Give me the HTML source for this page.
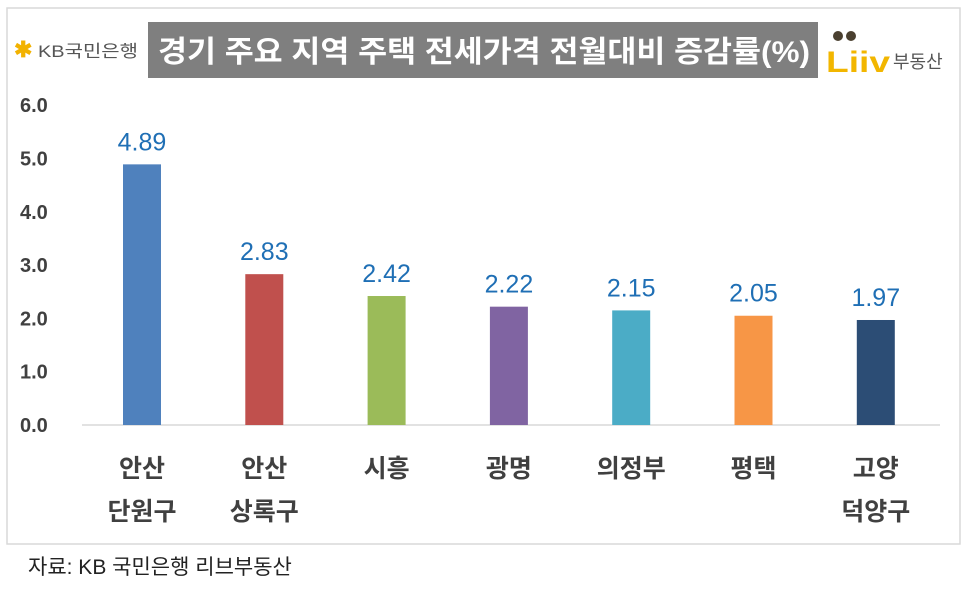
<!DOCTYPE html>
<html><head><meta charset="utf-8"><style>
body{margin:0;background:#fff;width:966px;height:593px;overflow:hidden;font-family:"Liberation Sans","Noto Sans CJK KR",sans-serif}
</style></head><body>
<svg width="966" height="593" xmlns="http://www.w3.org/2000/svg" font-family="Liberation Sans, Noto Sans CJK KR, sans-serif">
<rect x="7" y="8" width="953" height="536" fill="#fff" stroke="#d9d9d9" stroke-width="1.5"/>
<rect x="148" y="22" width="670" height="56" fill="#7f7f7f"/>
<text x="158" y="62" fill="#fff" font-size="30" font-weight="bold" textLength="652" lengthAdjust="spacingAndGlyphs">경기 주요 지역 주택 전세가격 전월대비 증감률(%)</text>
<g>
<text x="14" y="57" fill="#f2b200" font-size="22" font-weight="bold">✱</text>
<text x="38" y="57" fill="#555" font-size="17" textLength="100" lengthAdjust="spacingAndGlyphs">KB국민은행</text>
</g>
<g>
<circle cx="838" cy="36" r="5" fill="#4a4030"/><circle cx="851" cy="36" r="5" fill="#4a4030"/>
<text x="826" y="72" fill="#f2b600" font-size="30" font-weight="bold" textLength="64" lengthAdjust="spacingAndGlyphs">Liiv</text>
<text x="893" y="68" fill="#555" font-size="18">부동산</text>
</g>
<g id="yaxis"></g>
<line x1="82" y1="425" x2="940" y2="425" stroke="#d9d9d9" stroke-width="1.5"/>
<g id="bars"></g>
<text x="28" y="574" fill="#222" font-size="21">자료: KB 국민은행  리브부동산</text>
</svg>
<script>
const categories=[["안산","단원구"],["안산","상록구"],["시흥"],["광명"],["의정부"],["평택"],["고양","덕양구"]];
const values=[4.89,2.83,2.42,2.22,2.15,2.05,1.97];
const valueLabels=["4.89","2.83","2.42","2.22","2.15","2.05","1.97"];
const colors=["#4f81bd","#c0504d","#9bbb59","#8064a2","#4bacc6","#f79646","#2c4d75"];
const yTicks=[0,1,2,3,4,5,6];
const NS="http://www.w3.org/2000/svg";
const y=v=>425-v*53.3;
const x=i=>142+i*122.3;
const ya=document.getElementById('yaxis');
yTicks.forEach(t=>{const e=document.createElementNS(NS,'text');


e.setAttribute('x',20);e.setAttribute('y',y(t)+7);e.setAttribute('font-size','20');e.setAttribute('font-weight','bold');e.setAttribute('fill','#404040');e.textContent=t.toFixed(1);ya.appendChild(e);});
const g=document.getElementById('bars');
values.forEach((v,i)=>{
const r=document.createElementNS(NS,'rect');


r.setAttribute('x',x(i)-19);r.setAttribute('y',y(v));r.setAttribute('width',38);r.setAttribute('height',425-y(v));r.setAttribute('fill',colors[i]);g.appendChild(r);
const l=document.createElementNS(NS,'text');


l.setAttribute('x',x(i));l.setAttribute('y',y(v)-14);l.setAttribute('font-size','25');l.setAttribute('fill','#1f6fb5');l.setAttribute('text-anchor','middle');l.textContent=valueLabels[i];g.appendChild(l);
categories[i].forEach((c,j)=>{const t=document.createElementNS(NS,'text');


t.setAttribute('x',x(i));t.setAttribute('y',477+j*43);t.setAttribute('font-size','25');t.setAttribute('font-weight','bold');t.setAttribute('fill','#404040');t.setAttribute('text-anchor','middle');t.textContent=c;g.appendChild(t);});
});
</script>
</body></html>
